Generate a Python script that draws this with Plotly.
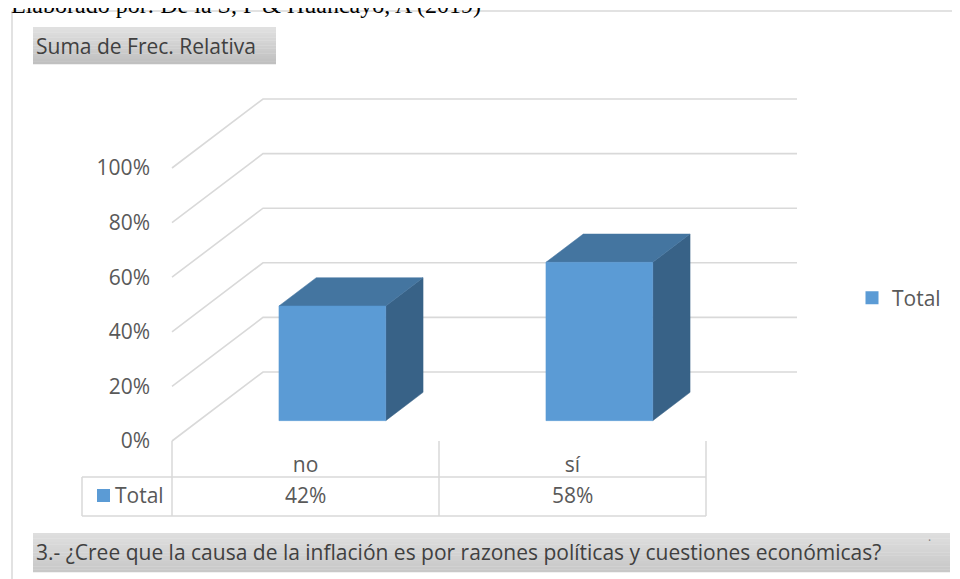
import plotly.graph_objects as go

# data
categories = ["no", "sí"]
values = [42, 58]
y_ticks = [0, 20, 40, 60, 80, 100]
y_tick_labels = ["0%", "20%", "40%", "60%", "80%", "100%"]
series_name = "Total"
chart_title = "Suma de Frec. Relativa"
question = "3.- ¿Cree que la causa de la inflación es por razones políticas y cuestiones económicas?"
source_note = "Elaborado por: De la S, F & Huancayo, A (2019)"

W, H = 960, 579
OFF = 8                            # page body margin around the plot div
FRONT_FACE = "#5B9BD5"
TOP_FACE = "#4475A0"
SIDE_FACE = "#386287"
GRID = "#D9D9D9"
TEXT = "#595959"
FONT = "Open Sans"
FS = 21

# pixel layout of the pseudo-3D plot area (page pixels)
X_LEFT_PX, UNIT_PX = 172, 267      # front-left edge, px per category
Y_ZERO_PX, PCT_PX = 441, 2.73      # front 0% line, px per percent
DEPTH_DX = 91 / UNIT_PX            # depth offset in category units
DEPTH_DY = 69 / PCT_PX             # depth offset in percent units
BAR_HALF = 0.2
D0, D1 = 0.295, 0.705              # bar depth span (0=front, 1=back)

x_lo = -0.5 - (X_LEFT_PX - OFF) / UNIT_PX
x_hi = -0.5 + (W + OFF - X_LEFT_PX) / UNIT_PX
y_lo = (Y_ZERO_PX - H - OFF) / PCT_PX
y_hi = (Y_ZERO_PX - OFF) / PCT_PX
x_first, x_last = -0.5, len(categories) - 0.5


def proj(x, y, d):
    return x + DEPTH_DX * d, y + DEPTH_DY * d


def px(x):
    return (x - OFF) / W


def py(y):
    return 1 - (y - OFF) / H


def data_x(p):
    return -0.5 + (p - X_LEFT_PX) / UNIT_PX


fig = go.Figure()

# wall gridlines: side wall diagonal + back wall horizontal
gx, gy = [], []
for v in y_ticks:
    bx, by = proj(x_first, v, 1)
    ex, _ = proj(x_last, v, 1)
    gx += [x_first, bx, ex, None]
    gy += [v, by, by, None]
fig.add_trace(go.Scatter(x=gx, y=gy, mode="lines", line=dict(color=GRID, width=1.6),
                         hoverinfo="skip", showlegend=False))


def face(pts, color):
    xs = [p[0] for p in pts] + [pts[0][0]]
    ys = [p[1] for p in pts] + [pts[0][1]]
    fig.add_trace(go.Scatter(x=xs, y=ys, mode="lines", fill="toself", fillcolor=color,
                             line=dict(color=color, width=0.5), hoverinfo="skip",
                             showlegend=False))


for i, v in enumerate(values):
    l, r = i - BAR_HALF, i + BAR_HALF
    face([proj(r, 0, D0), proj(r, 0, D1), proj(r, v, D1), proj(r, v, D0)], SIDE_FACE)
    face([proj(l, v, D0), proj(r, v, D0), proj(r, v, D1), proj(l, v, D1)], TOP_FACE)
    face([proj(l, 0, D0), proj(r, 0, D0), proj(r, v, D0), proj(l, v, D0)], FRONT_FACE)

# legend entry
fig.add_trace(go.Scatter(x=[None], y=[None], mode="markers", name=series_name,
                         marker=dict(symbol="square", size=13, color=FRONT_FACE)))

shapes = []
# chart frame
shapes.append(dict(type="line", xref="paper", yref="paper", x0=px(12), x1=px(12),
                   y0=py(11), y1=0, line=dict(color=GRID, width=1.5)))
shapes.append(dict(type="line", xref="paper", yref="paper", x0=px(12), x1=1,
                   y0=py(11), y1=py(11), line=dict(color=GRID, width=1.5)))


def gradient_box(x0, x1, y0, y1, top=(224, 224, 224), bottom=(192, 192, 192), n=14):
    step = (y1 - y0) / n
    for k in range(n):
        t = k / (n - 1)
        c = tuple(round(a + (b - a) * t) for a, b in zip(top, bottom))
        shapes.append(dict(type="rect", xref="paper", yref="paper", layer="below",
                           x0=px(x0), x1=px(x1), y0=py(y0 + step * (k + 1) + 0.3),
                           y1=py(y0 + step * k), fillcolor="rgb(%d,%d,%d)" % c,
                           line=dict(width=0)))


gradient_box(33, 276, 27, 64)
gradient_box(33, 950, 533, 572, top=(222, 222, 222), bottom=(200, 200, 200))

# data table lines
line_style = dict(color=GRID, width=1.5)
for k in range(len(categories) + 1):
    xb = x_first + k
    shapes.append(dict(type="line", xref="x", yref="paper", x0=xb, x1=xb,
                       y0=py(Y_ZERO_PX), y1=py(516), line=line_style))
for yy in (477, 516):
    shapes.append(dict(type="line", xref="x", yref="paper", x0=data_x(82), x1=x_last,
                       y0=py(yy), y1=py(yy), line=line_style))
shapes.append(dict(type="line", xref="x", yref="paper", x0=data_x(82), x1=data_x(82),
                   y0=py(477), y1=py(516), line=line_style))
# key swatch in table
shapes.append(dict(type="rect", xref="paper", yref="paper", x0=px(97), x1=px(110),
                   y0=py(502), y1=py(489), fillcolor=FRONT_FACE, line=dict(width=0)))

annotations = [
    # source note sits above the chart frame, partly cut by the page edge as in the source image
    dict(text=source_note, x=px(9), y=py(20), xref="paper", yref="paper",
         xanchor="left", yanchor="bottom", showarrow=False,
         font=dict(family="Liberation Serif", size=24, color="black")),
    dict(text=chart_title, x=px(34), y=py(46), xref="paper", yref="paper",
         xanchor="left", yanchor="middle", showarrow=False,
         font=dict(family=FONT, size=FS, color="#404040")),
    dict(text=question, x=px(34), y=py(552), xref="paper", yref="paper",
         xanchor="left", yanchor="middle", showarrow=False,
         font=dict(family=FONT, size=FS, color="#404040")),
    dict(text="·", x=px(933), y=py(551), xref="paper", yref="paper",
         showarrow=False, font=dict(family=FONT, size=12, color="#7F7F7F")),
    dict(text=series_name, x=px(113), y=py(495), xref="paper", yref="paper",
         xanchor="left", yanchor="middle", showarrow=False,
         font=dict(family=FONT, size=FS, color=TEXT)),
]
for i, v in enumerate(values):
    annotations.append(dict(text=f"{v}%", x=i, y=py(495), xref="x", yref="paper",
                            xanchor="center", yanchor="middle", showarrow=False,
                            font=dict(family=FONT, size=FS, color=TEXT)))

fig.update_layout(
    width=W, height=H,
    margin=dict(l=0, r=0, t=0, b=0),
    paper_bgcolor="white", plot_bgcolor="white",
    font=dict(family=FONT, size=FS, color=TEXT),
    xaxis=dict(range=[x_lo, x_hi], tickvals=list(range(len(categories))),
               ticktext=categories, showgrid=False, zeroline=False, showline=False,
               anchor="free", position=py(Y_ZERO_PX), ticks="", ticklabelstandoff=9,
               fixedrange=True),
    yaxis=dict(range=[y_lo, y_hi], tickvals=y_ticks, ticktext=y_tick_labels,
               showgrid=False, zeroline=False, showline=False,
               anchor="free", position=px(X_LEFT_PX), ticks="", ticklabelstandoff=22,
               fixedrange=True),
    legend=dict(x=px(852), y=py(298), xanchor="left", yanchor="middle",
                font=dict(family=FONT, size=FS, color=TEXT), bgcolor="rgba(0,0,0,0)",
                itemwidth=30),
    shapes=shapes,
    annotations=annotations,
)

fig.write_html("out.html")
